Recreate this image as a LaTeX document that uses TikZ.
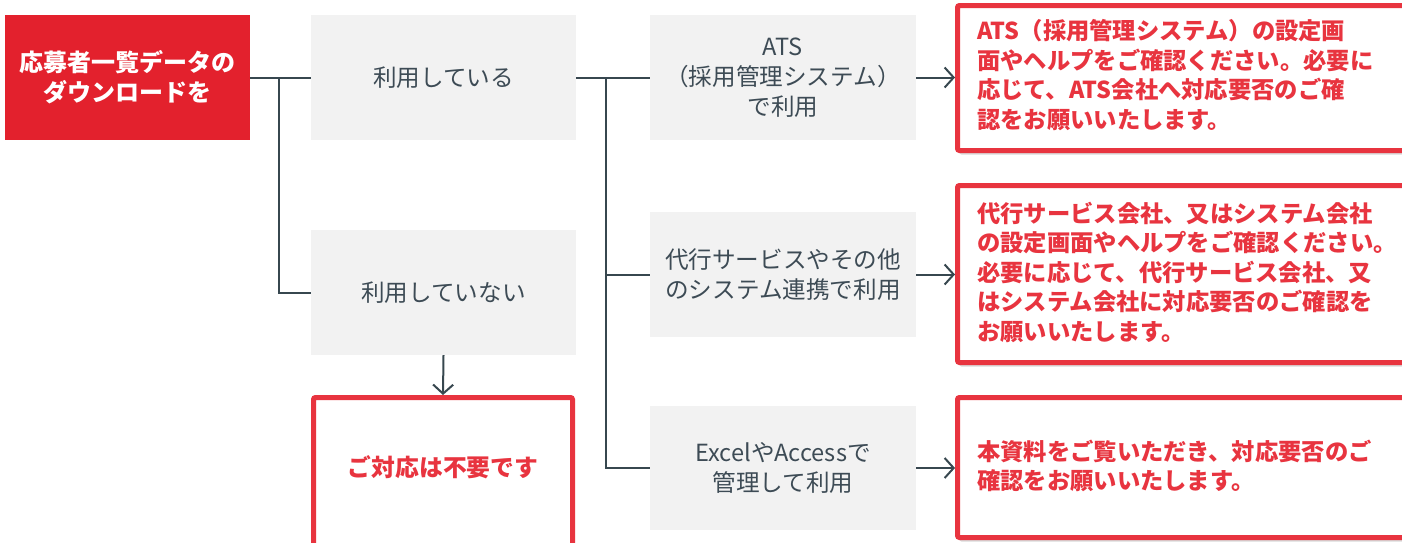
\documentclass[tikz,border=0pt]{standalone}
\usepackage{fontspec}
\setmainfont{Noto Sans CJK JP}
\usetikzlibrary{arrows.meta,shadows}
\definecolor{hdrred}{HTML}{E3212D}
\definecolor{bred}{HTML}{E8343F}
\definecolor{gfill}{HTML}{F2F2F2}
\definecolor{gtext}{HTML}{3D4B55}
\definecolor{lcol}{HTML}{37474F}
\tikzset{
  hdrbox/.style={fill=hdrred, text=white, font=\fontsize{24}{30}\selectfont\bfseries, align=center, minimum width=245, minimum height=125, inner sep=0},
  graybox/.style={fill=gfill, text=gtext, font=\fontsize{23.6}{30}\selectfont, align=center, minimum width=265, minimum height=125, inner sep=0},
  redbox/.style={draw=bred, line width=5pt, fill=white, rounded corners=2pt, inner sep=0,
     drop shadow={opacity=0.3, shadow xshift=2pt, shadow yshift=-4pt}},
  redtxt/.style={text=bred, font=\fontsize{23.3}{29.5}\selectfont\bfseries, align=left, inner sep=0},
  conn/.style={draw=lcol, line width=2pt},
  arr/.style={conn, -{Straight Barb[length=9pt,width=20pt,line width=2pt]}},
}
\begin{document}
\begin{tikzpicture}[x=1pt,y=-1pt]
\useasboundingbox (0,0) rectangle (1402,542);
\clip (0,0) rectangle (1402,542);
\fill[white] (0,0) rectangle (1402,542);
% header
\node[hdrbox] (hdr) at (127.5,77.5) {応募者一覧データの\\ダウンロードを};
% gray boxes
\node[graybox] (use) at (443.5,77.5) {利用している};
\node[graybox] (notuse) at (443.5,292.5) {利用していない};
\node[graybox, minimum width=266] (ats) at (783,77.5) {ATS\\（採用管理システム）\\で利用};
\node[graybox, minimum width=266] (daiko) at (783,274.5) {代行サービスやその他\\のシステム連携で利用};
\node[graybox, minimum width=266, minimum height=124] (excel) at (783,468) {ExcelやAccessで\\管理して利用};
% red outlined boxes
\node[redbox, anchor=north west, minimum width=259, minimum height=150] (nores) at (311,395) {};
\node[redtxt, font=\fontsize{23.8}{29.5}\selectfont\bfseries] (noresT) at (443,467) {ご対応は不要です};
\node[redbox, anchor=north west, minimum width=470, minimum height=145] (atsR) at (955,3) {};
\node[redtxt, anchor=west] (atsT) at (977,75) {ATS（採用管理システム）の設定画\\面やヘルプをご確認ください。必要に\\応じて、ATS会社へ対応要否のご確\\認をお願いいたします。};
\node[redbox, anchor=north west, minimum width=470, minimum height=177] (daikoR) at (955,183) {};
\node[redtxt, anchor=west] (daikoT) at (977,272) {代行サービス会社、又はシステム会社\\の設定画面やヘルプをご確認ください。\\必要に応じて、代行サービス会社、又\\はシステム会社に対応要否のご確認を\\お願いいたします。};
\node[redbox, anchor=north west, minimum width=470, minimum height=140] (excelR) at (955,395) {};
\node[redtxt, anchor=west] (excelT) at (977,466) {本資料をご覧いただき、対応要否のご\\確認をお願いいたします。};
% connectors
\draw[conn] (hdr.east) -- (use.west);
\coordinate (j1) at (279,77.5);
\draw[conn] (j1) |- (notuse.west);
\draw[conn] (use.east) -- (ats.west);
\coordinate (j2) at (606,77.5);
\draw[conn] (j2) |- (daiko.west);
\draw[conn] (j2) |- (excel.west);
\draw[arr] (ats.east) -- (atsR.west |- ats.east);
\draw[arr] (daiko.east) -- (daikoR.west |- daiko.east);
\draw[arr] (excel.east) -- (excelR.west |- excel.east);
\draw[arr] (notuse.south) -- (nores.north);
\end{tikzpicture}
\end{document}
